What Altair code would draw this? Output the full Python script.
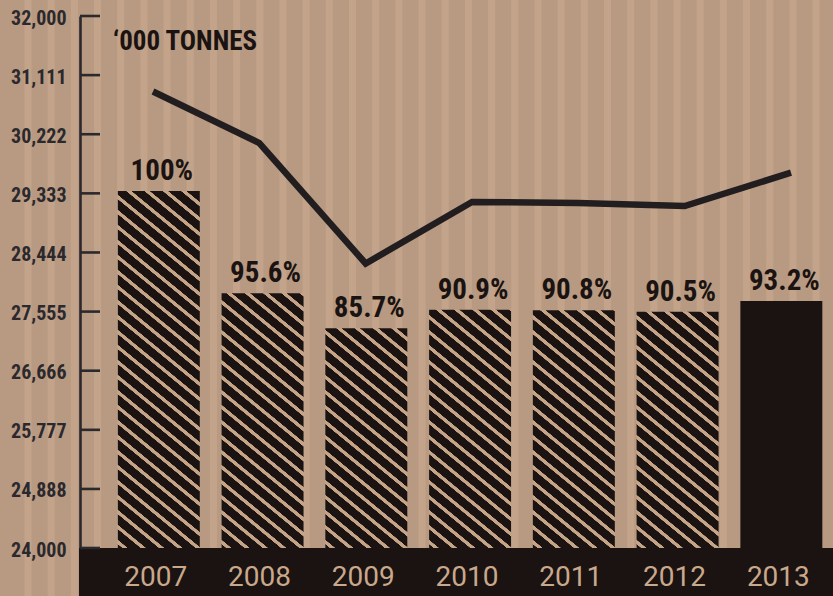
import altair as alt
import pandas as pd

# ---- data -------------------------------------------------------------
years = ["2007", "2008", "2009", "2010", "2011", "2012", "2013"]
bar_tonnes = [29368, 27830, 27304, 27584, 27575, 27553, 27714]
line_tonnes = [30865, 30090, 28278, 29203, 29188, 29143, 29644]
share_labels = ["100%", "95.6%", "85.7%", "90.9%", "90.8%", "90.5%", "93.2%"]
hatched = [True, True, True, True, True, True, False]
tick_values = [24000, 24888, 25777, 26666, 27555, 28444, 29333, 30222, 31111, 32000]
unit_title = "\u2018000 TONNES"

# ---- layout & style ---------------------------------------------------
PLOT_W, PLOT_H = 753, 532
PAD_L, PAD_T, PAD_R, PAD_B = 80, 16, 0, 48
Y_MIN, Y_MAX = 24000, 32000

BG = "#b89a82"
BG_LIGHT = "#c3a48a"
INK = "#1a1311"
HATCH_LIGHT = "#c6a488"
AXIS_INK = "#2b292d"
LINE_INK = "#221e20"
YEAR_INK = "#c9a88c"
NARROW = "'Liberation Sans Narrow', 'Roboto Condensed', 'DejaVu Sans Condensed', sans-serif"

PAD_INNER, PAD_OUTER, ALIGN = 0.21, 0.2337, 0.78
step = PLOT_W / (len(years) - PAD_INNER + 2 * PAD_OUTER)
band_w = step * (1 - PAD_INNER)

SLOPE = 0.82      # hatch direction (pixels down per pixel right)
PERIOD = 15.0     # vertical distance between hatch lines
STRIPE = 3.9      # vertical thickness of a light hatch line


def stripe_stops(span, starts, width, base, light, soft=0.5):
    """Hard-edged stripes along a gradient whose length is `span` pixels."""
    stops = [{"offset": 0.0, "color": base}]
    for c in starts:
        for p, col in ((c - soft, base), (c, light), (c + width, light), (c + width + soft, base)):
            stops.append({"offset": min(max(p / span, 0.0), 1.0), "color": col})
    stops.append({"offset": 1.0, "color": base})
    return stops


def hatch_fill(value):
    """Diagonal hatch as a linear gradient in the bar's bounding box."""
    h = (value - Y_MIN) / (Y_MAX - Y_MIN) * PLOT_H
    span = SLOPE * band_w + h
    r = h / (SLOPE * band_w)
    k = (1 + r) / (1 + r * r)
    starts = []
    c = 4.0
    while c < span:
        starts.append(c)
        c += PERIOD
    return {
        "gradient": "linear",
        "x1": 0, "y1": 1, "x2": k, "y2": 1 - k * r,
        "stops": stripe_stops(span, starts, STRIPE, INK, HATCH_LIGHT),
    }


def paper_fill(total_w=PLOT_W + PAD_L):
    """Soft vertical grain of the backdrop."""
    starts = []
    c = 25.0
    while c < total_w:
        starts.append(c)
        c += 23.18
    return {
        "gradient": "linear",
        "x1": 0, "y1": 0, "x2": 1, "y2": 0,
        "stops": stripe_stops(total_w, starts, 6.0, BG, BG_LIGHT, soft=1.0),
    }


bars_df = pd.DataFrame({"year": years, "tonnes": bar_tonnes, "label": share_labels})
line_df = pd.DataFrame({"year": years, "tonnes": line_tonnes})
ticks_df = pd.DataFrame({"tonnes": tick_values})
one_row = pd.DataFrame({"t": [unit_title]})

y_enc = alt.Y(
    "tonnes:Q",
    scale=alt.Scale(domain=[Y_MIN, Y_MAX], nice=False, zero=False),
    axis=alt.Axis(
        values=tick_values, format=",.0f", title=None, grid=False,
        ticks=False, tickSize=0, domain=True, domainColor=AXIS_INK, domainWidth=2.6,
        labelFont=NARROW, labelFontSize=20, labelFontWeight="bold", labelColor=AXIS_INK,
        labelPadding=14, labelBaseline="middle", labelOffset=2,
        labelFlush=False, labelOverlap=False, zindex=1,
    ),
)

x_band = alt.X(
    "year:O",
    scale=alt.Scale(domain=years, paddingInner=PAD_INNER, paddingOuter=PAD_OUTER, align=ALIGN),
    axis=alt.Axis(
        title=None, domain=False, ticks=False, tickSize=0, labelAngle=0,
        labelFont="Roboto", labelFontSize=28, labelColor=YEAR_INK,
        labelPadding=37, labelBaseline="alphabetic", labelOffset=-3, zindex=1,
    ),
)

# backdrop with grain, and the dark strip under the plot
backdrop = alt.Chart(one_row).mark_rect(fill=paper_fill()).encode(
    x=alt.value(-PAD_L), x2=alt.value(PLOT_W), y=alt.value(-PAD_T), y2=alt.value(PLOT_H + PAD_B)
)
strip = alt.Chart(one_row).mark_rect(fill=INK).encode(
    x=alt.value(-1), x2=alt.value(PLOT_W), y=alt.value(PLOT_H), y2=alt.value(PLOT_H + PAD_B)
)

# inward tick marks on the value axis
ticks = alt.Chart(ticks_df).mark_rule(stroke=AXIS_INK, strokeWidth=2.6).encode(
    y=y_enc, x=alt.value(0), x2=alt.value(20)
)

bar_layers = []
for yr, val, is_hatched in zip(years, bar_tonnes, hatched):
    fill = hatch_fill(val) if is_hatched else INK
    bar_layers.append(
        alt.Chart(bars_df)
        .transform_filter(alt.datum.year == yr)
        .mark_bar(fill=fill)
        .encode(x=x_band, y=y_enc, y2=alt.datum(Y_MIN))
    )

share_text = alt.Chart(bars_df).mark_text(
    dy=-11, dx=3, baseline="alphabetic", font=NARROW, fontSize=29, fontWeight="bold", color=INK
).encode(x=x_band, y=y_enc, text="label:N")

bars_group = alt.layer(*bar_layers, share_text)

trend = alt.Chart(line_df).mark_line(
    stroke=LINE_INK, strokeWidth=6.5, strokeCap="butt", strokeJoin="miter"
).encode(
    x=alt.X("year:O", scale=alt.Scale(type="point", domain=years, range=[73, 711], padding=0), axis=None),
    y=y_enc,
)

unit_label = alt.Chart(one_row).mark_text(
    align="left", baseline="alphabetic", font=NARROW, fontSize=27, fontWeight="bold", color=INK
).encode(x=alt.value(33), y=alt.value(34), text="t:N")

chart = (
    alt.layer(backdrop, strip, ticks, bars_group, trend, unit_label)
    .resolve_scale(x="independent")
    .properties(
        width=PLOT_W,
        height=PLOT_H,
        autosize=alt.AutoSizeParams(type="none"),
        padding={"left": PAD_L, "top": PAD_T, "right": PAD_R, "bottom": PAD_B},
        background=BG,
    )
    .configure_view(stroke=None)
)

chart.save("out.html", embed_options={"renderer": "svg", "actions": False})
